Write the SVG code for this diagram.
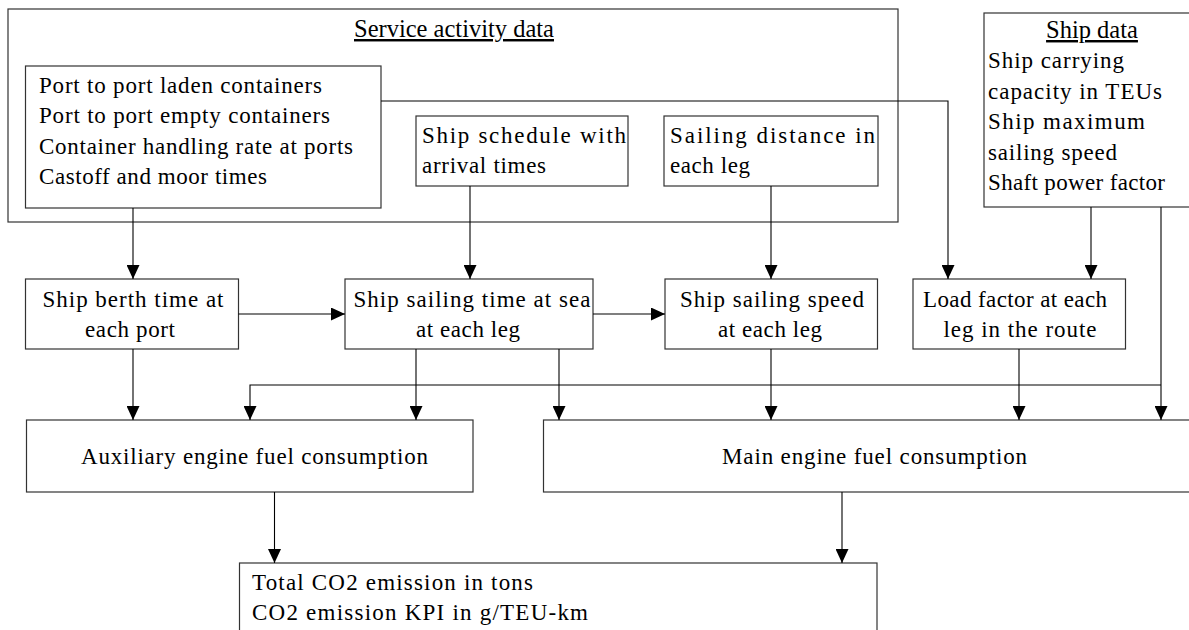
<svg xmlns="http://www.w3.org/2000/svg" width="1189" height="630" viewBox="0 0 1189 630">
<style>
text{font-family:"Liberation Serif","Times New Roman",serif;font-size:23px;fill:#000}
.c{text-anchor:middle}
.u{text-decoration:underline;font-size:24.5px}
.box{fill:#fff;stroke:#333;stroke-width:1.2}
.con{fill:none;stroke:#000;stroke-width:1.1}
</style>
<defs>
<marker id="ah" markerUnits="userSpaceOnUse" markerWidth="14" markerHeight="13" refX="14" refY="6.5" orient="auto">
<path d="M0,0 L14,6.5 L0,13 z" fill="#000"/>
</marker>
</defs>
<rect width="1189" height="630" fill="#fff"/>
<g id="service-activity-data">
<rect class="box" x="8" y="9" width="890" height="213"/>
<text class="c u" x="454" y="37">Service activity data</text>
</g>
<g id="port-data">
<rect class="box" x="25.5" y="66" width="355.5" height="142"/>
<text x="39" y="93" textLength="283">Port to port laden containers</text>
<text x="39" y="123" textLength="291">Port to port empty containers</text>
<text x="39" y="154" textLength="314">Container handling rate at ports</text>
<text x="39" y="184" textLength="228">Castoff and moor times</text>
</g>
<g id="ship-schedule">
<rect class="box" x="416" y="116" width="212" height="70"/>
<text x="422" y="143" textLength="204">Ship schedule with</text>
<text x="422" y="173" textLength="124">arrival times</text>
</g>
<g id="sailing-distance">
<rect class="box" x="664" y="116" width="214" height="70"/>
<text x="670" y="143" textLength="205">Sailing distance in</text>
<text x="670" y="173" textLength="80">each leg</text>
</g>
<g id="ship-data">
<rect class="box" x="984" y="13" width="215" height="194"/>
<text class="c u" x="1092" y="38">Ship data</text>
<text x="988" y="68" textLength="136">Ship carrying</text>
<text x="988" y="99" textLength="174">capacity in TEUs</text>
<text x="988" y="129" textLength="157">Ship maximum</text>
<text x="988" y="160" textLength="129">sailing speed</text>
<text x="988" y="190" textLength="177">Shaft power factor</text>
</g>
<g id="berth-time">
<rect class="box" x="25.5" y="279" width="213" height="70"/>
<text class="c" x="133" y="307" textLength="181">Ship berth time at</text>
<text class="c" x="130" y="337" textLength="90">each port</text>
</g>
<g id="sailing-time">
<rect class="box" x="345" y="279" width="248" height="70"/>
<text class="c" x="472" y="307" textLength="237">Ship sailing time at sea</text>
<text class="c" x="468" y="337" textLength="104">at each leg</text>
</g>
<g id="sailing-speed">
<rect class="box" x="665" y="279" width="212.5" height="70"/>
<text class="c" x="772" y="307" textLength="184">Ship sailing speed</text>
<text class="c" x="770" y="337" textLength="104">at each leg</text>
</g>
<g id="load-factor">
<rect class="box" x="913" y="279" width="212.5" height="70"/>
<text class="c" x="1015" y="307" textLength="184">Load factor at each</text>
<text class="c" x="1020" y="337" textLength="153">leg in the route</text>
</g>
<g id="aux-engine">
<rect class="box" x="26.5" y="420" width="446.5" height="72"/>
<text class="c" x="254.5" y="464" textLength="347">Auxiliary engine fuel consumption</text>
</g>
<g id="main-engine">
<rect class="box" x="543.5" y="420" width="660" height="72"/>
<text class="c" x="874.5" y="464" textLength="305">Main engine fuel consumption</text>
</g>
<g id="co2-output">
<rect class="box" x="239.5" y="563" width="637.5" height="80"/>
<text x="252" y="590" textLength="281">Total CO2 emission in tons</text>
<text x="252" y="620" textLength="336">CO2 emission KPI in g/TEU-km</text>
</g>
<g id="connectors" class="con">
<path class="con" d="M133,208 V279" marker-end="url(#ah)"/>
<path class="con" d="M470,186 V279" marker-end="url(#ah)"/>
<path class="con" d="M771,186 V279" marker-end="url(#ah)"/>
<path class="con" d="M381,101 H948 V279" marker-end="url(#ah)"/>
<path class="con" d="M1091,207 V279" marker-end="url(#ah)"/>
<path class="con" d="M238.5,314 H345" marker-end="url(#ah)"/>
<path class="con" d="M593,314 H665" marker-end="url(#ah)"/>
<path class="con" d="M133,349 V420" marker-end="url(#ah)"/>
<path class="con" d="M416,349 V420" marker-end="url(#ah)"/>
<path class="con" d="M559,349 V420" marker-end="url(#ah)"/>
<path class="con" d="M771,349 V420" marker-end="url(#ah)"/>
<path class="con" d="M1019,349 V420" marker-end="url(#ah)"/>
<path class="con" d="M1161,207 V420" marker-end="url(#ah)"/>
<path class="con" d="M1161,385 H250 V420" marker-end="url(#ah)"/>
<path class="con" d="M274.5,492 V563" marker-end="url(#ah)"/>
<path class="con" d="M842,492 V563" marker-end="url(#ah)"/>
</g>
</svg>
